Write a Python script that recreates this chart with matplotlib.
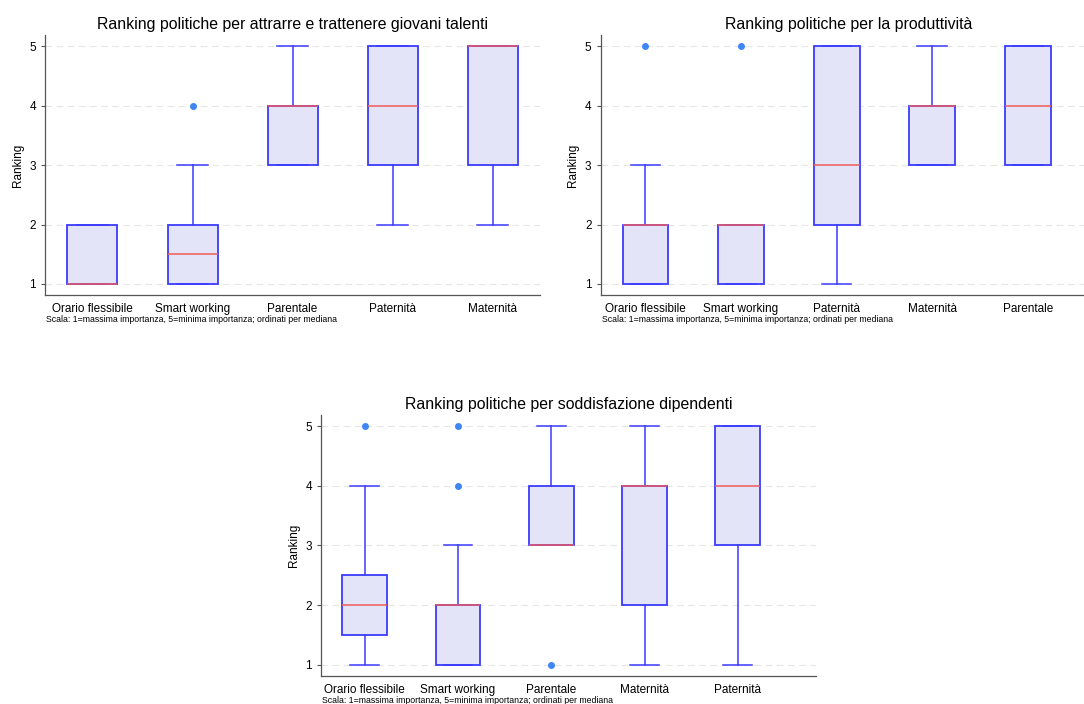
import numpy as np
import matplotlib.pyplot as plt

plt.rcParams['font.family'] = ['Liberation Sans', 'DejaVu Sans']

# --- data: box statistics ---
attr_labels = ['Orario flessibile', 'Smart working', 'Parentale', 'Paternità', 'Maternità']
attr_q1 = [1, 1, 3, 3, 3]
attr_med = [1, 1.5, 4, 4, 5]
attr_q3 = [2, 2, 4, 5, 5]
attr_lo = [1, 1, 3, 2, 2]
attr_hi = [2, 3, 5, 5, 5]
attr_out = [[], [4], [], [], []]

prod_labels = ['Orario flessibile', 'Smart working', 'Paternità', 'Maternità', 'Parentale']
prod_q1 = [1, 1, 2, 3, 3]
prod_med = [2, 2, 3, 4, 4]
prod_q3 = [2, 2, 5, 4, 5]
prod_lo = [1, 1, 1, 3, 3]
prod_hi = [3, 2, 5, 5, 5]
prod_out = [[5], [5], [], [], []]

sodd_labels = ['Orario flessibile', 'Smart working', 'Parentale', 'Maternità', 'Paternità']
sodd_q1 = [1.5, 1, 3, 2, 3]
sodd_med = [2, 2, 3, 4, 4]
sodd_q3 = [2.5, 2, 4, 4, 5]
sodd_lo = [1, 1, 3, 1, 1]
sodd_hi = [4, 3, 5, 5, 5]
sodd_out = [[5], [4, 5], [1], [], []]

titles = ['Ranking politiche per attrarre e trattenere giovani talenti',
          'Ranking politiche per la produttività',
          'Ranking politiche per soddisfazione dipendenti']
note = 'Scala: 1=massima importanza, 5=minima importanza; ordinati per mediana'

EDGE = '#3b3bff'
FILL = '#e4e4f8'
MED = '#f05a5a'
DOT = '#3f86f5'


def draw(ax, title, labels, q1, med, q3, lo, hi, out, xlim, width):
    stats = []
    for i in range(len(labels)):
        stats.append(dict(q1=q1[i], med=med[i], q3=q3[i], whislo=lo[i],
                          whishi=hi[i], fliers=out[i], label=labels[i]))
    ax.bxp(stats, widths=width, patch_artist=True, showfliers=True,
           boxprops=dict(facecolor=FILL, edgecolor=EDGE, linewidth=1.3),
           whiskerprops=dict(color=EDGE, linewidth=1.1),
           capprops=dict(color=EDGE, linewidth=1.1),
           medianprops=dict(color=MED, linewidth=1.1),
           flierprops=dict(marker='o', markersize=4, markerfacecolor=DOT,
                           markeredgecolor=DOT),
           capwidths=0.31)
    ax.set_ylim(0.815, 5.185)
    ax.set_xlim(*xlim)
    ax.set_yticks([1, 2, 3, 4, 5])
    ax.grid(axis='y', color='#e6e6e6', linestyle=(0, (6, 4)), linewidth=0.8)
    ax.set_axisbelow(True)
    for s in ('top', 'right'):
        ax.spines[s].set_visible(False)
    for s in ('left', 'bottom'):
        ax.spines[s].set_color('#555555')
        ax.spines[s].set_linewidth(0.9)
    ax.tick_params(axis='x', length=0, labelsize=8.5, pad=6)
    ax.tick_params(axis='y', length=3, labelsize=8.5, color='#555555')
    ax.set_ylabel('Ranking', fontsize=8.5, labelpad=4)
    ax.set_title(title, fontsize=11.45, pad=4.5)
    ax.text(0.003, -0.095, note, transform=ax.transAxes, fontsize=6.3,
            ha='left', va='center')


fig = plt.figure(figsize=(10.84, 7.04), dpi=100)
ax1 = fig.add_axes([0.0415, 0.581, 0.4567, 0.369])
ax2 = fig.add_axes([0.554, 0.581, 0.4576, 0.369])
ax3 = fig.add_axes([0.296, 0.0398, 0.457, 0.3707])

draw(ax1, titles[0], attr_labels, attr_q1, attr_med, attr_q3, attr_lo, attr_hi, attr_out,
     (0.525, 5.475), 0.5)
draw(ax2, titles[1], prod_labels, prod_q1, prod_med, prod_q3, prod_lo, prod_hi, prod_out,
     (0.53, 5.72), 0.48)
draw(ax3, titles[2], sodd_labels, sodd_q1, sodd_med, sodd_q3, sodd_lo, sodd_hi, sodd_out,
     (0.53, 5.84), 0.48)

fig.savefig('out.png', dpi=100)
